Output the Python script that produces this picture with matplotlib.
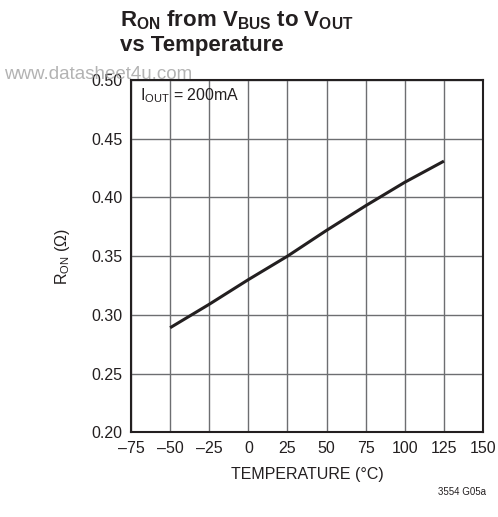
import matplotlib
matplotlib.use('Agg')

import matplotlib.pyplot as plt

# Données
temperature = [-50, -25, 0, 25, 50, 75, 100, 125]
r_on = [0.289, 0.309, 0.330, 0.350, 0.372, 0.393, 0.413, 0.431]
x_ticks = [-75, -50, -25, 0, 25, 50, 75, 100, 125, 150]
y_ticks = [0.20, 0.25, 0.30, 0.35, 0.40, 0.45, 0.50]

FONT = ['Liberation Sans', 'DejaVu Sans']
plt.rcParams['font.family'] = FONT
plt.rcParams['mathtext.fontset'] = 'custom'
plt.rcParams['mathtext.rm'] = 'Liberation Sans'
plt.rcParams['mathtext.it'] = 'Liberation Sans'
plt.rcParams['mathtext.bf'] = 'Liberation Sans:bold'

fig = plt.figure(figsize=(4.98, 5.17), dpi=100)
ax = fig.add_axes([0.263, 0.164, 0.707, 0.681])

ax.plot(temperature, r_on, color='#231f20', linewidth=2.2, solid_capstyle='butt')

ax.set_xlim(-75, 150)
ax.set_ylim(0.20, 0.50)
ax.set_xticks(x_ticks)
ax.set_xticklabels([f'{t}'.replace('-', '\u2013') for t in x_ticks])
ax.set_yticks(y_ticks)
ax.set_yticklabels([f'{v:.2f}' for v in y_ticks])
ax.tick_params(length=0, labelsize=11.5, pad=6, colors='#231f20')

# Grille
ax.grid(True, color='#6d6e71', linewidth=1.0)
for s in ax.spines.values():
    s.set_color('#231f20')
    s.set_linewidth(1.5)

ax.set_xlabel('TEMPERATURE (°C)', fontsize=11.5, color='#231f20', labelpad=8)
ax.set_ylabel(r'$\mathrm{R_{ON}}$ (Ω)', fontsize=11.5, color='#231f20', labelpad=14)

ax.text(-69, 0.487, r'$\mathrm{I_{OUT}}$ = 200mA', fontsize=11.5, color='#231f20',
        va='center', ha='left')

# Titre
fig.text(0.241, 0.960, r'$\mathbf{R_{ON}\ from\ V_{BUS}\ to\ V_{OUT}}$',
         fontsize=16, color='#231f20', ha='left', va='center')
fig.text(0.241, 0.912, 'vs Temperature', fontsize=16, fontweight='bold',
         color='#231f20', ha='left', va='center')

# Filigrane
fig.text(0.008, 0.856, 'www.datasheet4u.com', fontsize=13.5, color='#a0a0a0',
         ha='left', va='center', alpha=0.8)

fig.text(0.975, 0.048, '3554 G05a', fontsize=7, color='#231f20', ha='right', va='center')

fig.savefig('out.png', dpi=100, facecolor='white')
plt.close(fig)
